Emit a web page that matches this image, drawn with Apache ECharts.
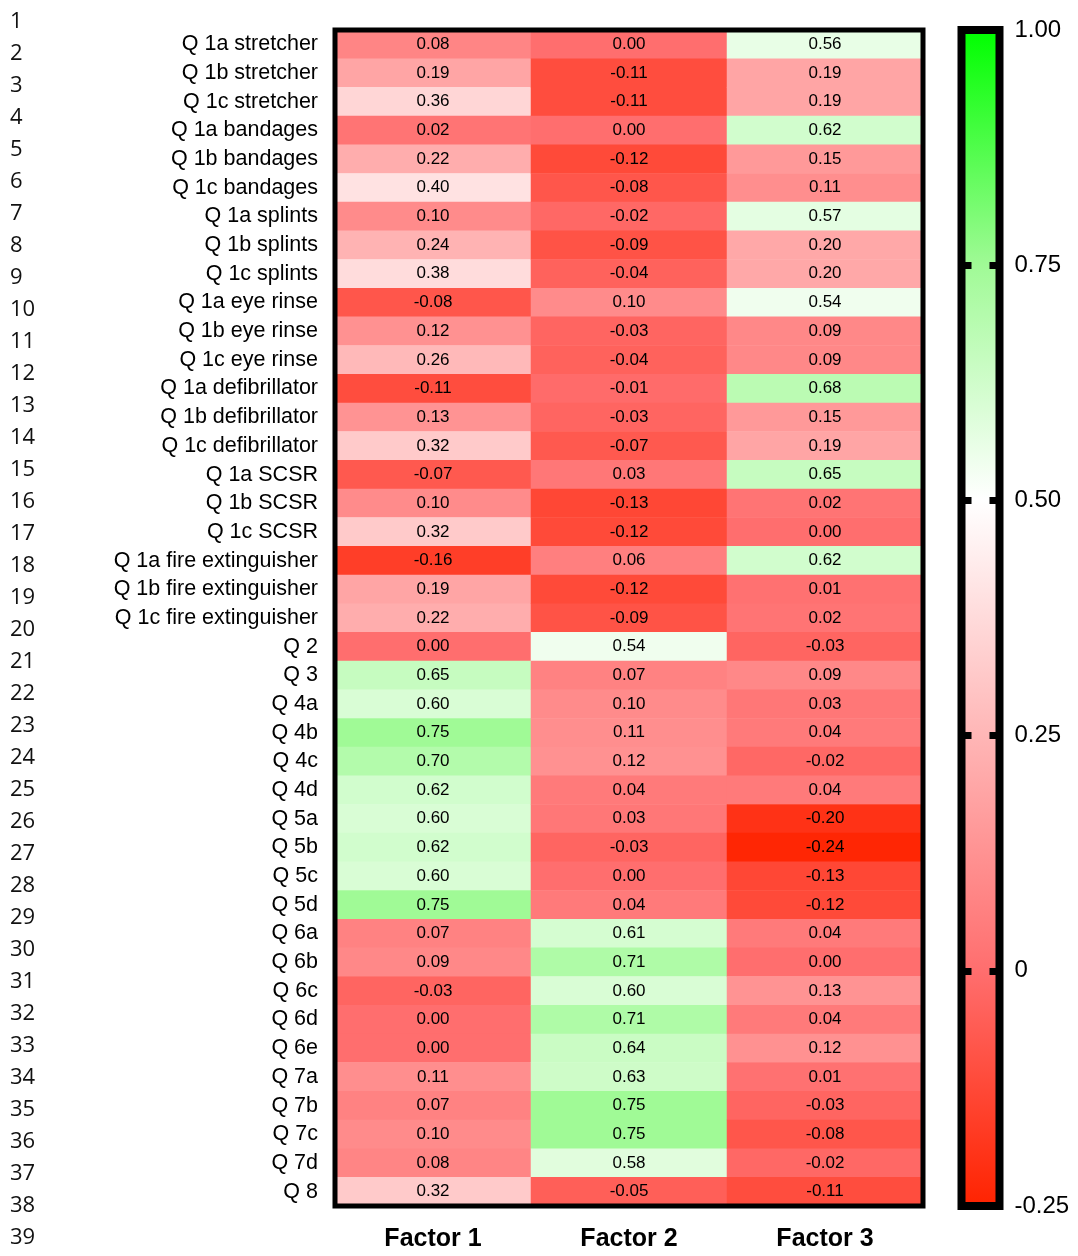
<!DOCTYPE html>
<html>
<head>
<meta charset="utf-8">
<script src="https://cdn.jsdelivr.net/npm/echarts@6/dist/echarts.min.js"></script>
<style>
  html, body { margin: 0; padding: 0; background: #fff; }
  #chart { width: 1078px; height: 1256px; }
</style>
</head>
<body>
<div id="chart"></div>
<script>
// row labels (top to bottom)
const rowLabels = [
  'Q 1a stretcher', 'Q 1b stretcher', 'Q 1c stretcher',
  'Q 1a bandages', 'Q 1b bandages', 'Q 1c bandages',
  'Q 1a splints', 'Q 1b splints', 'Q 1c splints',
  'Q 1a eye rinse', 'Q 1b eye rinse', 'Q 1c eye rinse',
  'Q 1a defibrillator', 'Q 1b defibrillator', 'Q 1c defibrillator',
  'Q 1a SCSR', 'Q 1b SCSR', 'Q 1c SCSR',
  'Q 1a fire extinguisher', 'Q 1b fire extinguisher', 'Q 1c fire extinguisher',
  'Q 2', 'Q 3', 'Q 4a', 'Q 4b', 'Q 4c', 'Q 4d',
  'Q 5a', 'Q 5b', 'Q 5c', 'Q 5d',
  'Q 6a', 'Q 6b', 'Q 6c', 'Q 6d', 'Q 6e',
  'Q 7a', 'Q 7b', 'Q 7c', 'Q 7d', 'Q 8'
];
const factorLabels = ['Factor 1', 'Factor 2', 'Factor 3'];

const factor1 = [0.08, 0.19, 0.36, 0.02, 0.22, 0.40, 0.10, 0.24, 0.38, -0.08, 0.12, 0.26,
  -0.11, 0.13, 0.32, -0.07, 0.10, 0.32, -0.16, 0.19, 0.22,
  0.00, 0.65, 0.60, 0.75, 0.70, 0.62, 0.60, 0.62, 0.60, 0.75,
  0.07, 0.09, -0.03, 0.00, 0.00, 0.11, 0.07, 0.10, 0.08, 0.32];
const factor2 = [0.00, -0.11, -0.11, 0.00, -0.12, -0.08, -0.02, -0.09, -0.04, 0.10, -0.03, -0.04,
  -0.01, -0.03, -0.07, 0.03, -0.13, -0.12, 0.06, -0.12, -0.09,
  0.54, 0.07, 0.10, 0.11, 0.12, 0.04, 0.03, -0.03, 0.00, 0.04,
  0.61, 0.71, 0.60, 0.71, 0.64, 0.63, 0.75, 0.75, 0.58, -0.05];
const factor3 = [0.56, 0.19, 0.19, 0.62, 0.15, 0.11, 0.57, 0.20, 0.20, 0.54, 0.09, 0.09,
  0.68, 0.15, 0.19, 0.65, 0.02, 0.00, 0.62, 0.01, 0.02,
  -0.03, 0.09, 0.03, 0.04, -0.02, 0.04, -0.20, -0.24, -0.13, -0.12,
  0.04, 0.00, 0.13, 0.04, 0.12, 0.01, -0.03, -0.08, -0.02, -0.11];

// colour scale, evenly spaced from cbMin to cbMax
const scaleColors = ['#ff2300', '#ff6e6e', '#ffb6b6', '#ffffff', '#a0fa96', '#00ff00'];
const cbMin = -0.25;
const cbMax = 1.0;
const cbStep = 0.25;
const cbLabels = ['-0.25', '0', '0.25', '0.50', '0.75', '1.00'];

// spreadsheet row numbers down the left edge
const lineNumbers = ['1', '2', '3', '4', '5', '6', '7', '8', '9', '10', '11', '12', '13',
  '14', '15', '16', '17', '18', '19', '20', '21', '22', '23', '24', '25', '26',
  '27', '28', '29', '30', '31', '32', '33', '34', '35', '36', '37', '38', '39'];

const columns = [factor1, factor2, factor3];
const heatData = [];
columns.forEach((col, j) => {
  col.forEach((v, i) => heatData.push([j, i, v]));
});

const chart = echarts.init(document.getElementById('chart'));
const font = "'Liberation Sans', Arial, sans-serif";

const option = {
  backgroundColor: '#fff',
  animation: false,
  grid: [
    { left: 335, right: 155, top: 30, bottom: 50, show: true, borderColor: '#000', borderWidth: 5, z: 5 },
    { left: 961.5, width: 38, top: 30, bottom: 50, show: true, borderColor: '#000', borderWidth: 8, z: 5 },
    { left: 40, width: 1, top: 6, bottom: 2 }
  ],
  xAxis: [
    {
      type: 'category', gridIndex: 0, data: factorLabels, position: 'bottom',
      axisLine: { show: false }, axisTick: { show: false }, splitLine: { show: false },
      axisLabel: { color: '#000', fontSize: 25, fontWeight: 'bold', fontFamily: font, margin: 21 }
    },
    { type: 'value', gridIndex: 1, min: 0, max: 1, show: false },
    { type: 'value', gridIndex: 2, min: 0, max: 1, show: false }
  ],
  yAxis: [
    {
      type: 'category', gridIndex: 0, data: rowLabels, inverse: true,
      axisLine: { show: false }, axisTick: { show: false }, splitLine: { show: false },
      axisLabel: { color: '#000', fontSize: 21.5, fontFamily: font, margin: 17 }
    },
    {
      type: 'value', gridIndex: 1, position: 'left', min: cbMin, max: cbMax, interval: cbStep, z: 6,
      axisLine: { show: false }, splitLine: { show: false },
      axisTick: { show: true, inside: true, length: 10, lineStyle: { color: '#000', width: 7 } },
      axisLabel: { show: false }
    },
    {
      type: 'value', gridIndex: 1, position: 'right', min: cbMin, max: cbMax, interval: cbStep, z: 6,
      axisLine: { show: false }, splitLine: { show: false },
      axisTick: { show: true, inside: true, length: 10, lineStyle: { color: '#000', width: 7 } },
      axisLabel: {
        color: '#000', fontSize: 24, fontFamily: font, margin: 15,
        formatter: v => cbLabels[Math.round((v - cbMin) / cbStep)]
      }
    },
    {
      type: 'category', gridIndex: 2, data: lineNumbers, inverse: true,
      axisLine: { show: false }, axisTick: { show: false }, splitLine: { show: false },
      axisLabel: { color: '#111', fontSize: 22, fontFamily: "'Open Sans', 'Noto Sans', sans-serif", align: 'left', margin: 30 }
    }
  ],
  visualMap: {
    type: 'continuous', show: false, seriesIndex: 0,
    min: cbMin, max: cbMax,
    inRange: { color: scaleColors }
  },
  series: [
    {
      type: 'heatmap', xAxisIndex: 0, yAxisIndex: 0, data: heatData,
      label: {
        show: true, color: '#000', fontSize: 17, fontFamily: font,
        formatter: p => p.value[2].toFixed(2)
      },
      emphasis: { disabled: true }
    },
    {
      type: 'custom', xAxisIndex: 1, yAxisIndex: 1, silent: true,
      data: [[0, cbMax, 1, cbMin]],
      encode: { x: [0, 2], y: [1, 3] },
      renderItem: (params, api) => {
        const p0 = api.coord([api.value(0), api.value(1)]);
        const p1 = api.coord([api.value(2), api.value(3)]);
        const n = scaleColors.length;
        const stops = scaleColors.map((c, i) => ({ offset: 1 - i / (n - 1), color: c })).reverse();
        return {
          type: 'rect',
          shape: { x: p0[0], y: p0[1], width: p1[0] - p0[0], height: p1[1] - p0[1] },
          style: { fill: new echarts.graphic.LinearGradient(0, 0, 0, 1, stops) }
        };
      }
    }
  ]
};

chart.setOption(option);
</script>
</body>
</html>
